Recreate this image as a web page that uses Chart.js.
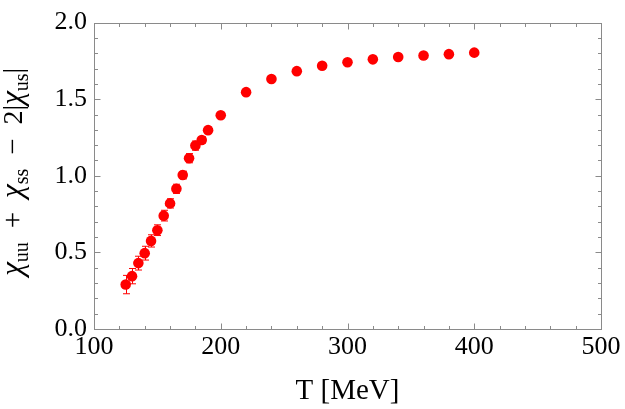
<!DOCTYPE html>
<html><head><meta charset="utf-8">
<script src="https://cdn.jsdelivr.net/npm/chart.js@4/dist/chart.umd.min.js"></script>
<style>html,body{margin:0;padding:0;background:#fff}#wrap{width:625px;height:409px;position:relative}</style>
</head><body><div id="wrap"><canvas id="c" width="625" height="409"></canvas></div>
<script>
const temperatures = [125,130,135,140,145,150,155,160,165,170,175,180,185,190,200,220,240,260,280,300,320,340,360,380,400];
const chiValues    = [0.29,0.345,0.43,0.495,0.575,0.645,0.74,0.82,0.915,1.005,1.115,1.197,1.234,1.298,1.395,1.546,1.632,1.683,1.718,1.741,1.760,1.775,1.785,1.794,1.804];
const chiErrors    = [0.06,0.05,0.045,0.045,0.04,0.035,0.035,0.03,0.03,0.025,0.03,0.03,0.02,0.02,0.015,0.015,0.02,0.015,0.01,0.01,0.01,0.01,0.01,0.01,0.01];
const xTickValues = [100,200,300,400,500];
const xTickLabels = ['100','200','300','400','500'];
const yTickValues = [0,0.5,1.0,1.5,2.0];
const yTickLabels = ['0.0','0.5','1.0','1.5','2.0'];
const xMinorStep = 20;
const yMinorStep = 0.1;
const xTitle = 'T [MeV]';
const yTitleParts = [
  {t:'χ', kind:'chi'},
  {t:'uu', kind:'sub'},
  {t:'+', kind:'op'},
  {t:'χ', kind:'chi'},
  {t:'ss', kind:'sub'},
  {t:'−', kind:'op'},
  {t:'2|', kind:'main'},
  {t:'χ', kind:'chi'},
  {t:'us', kind:'sub'},
  {t:'|', kind:'main'}
];

const FONT = 'Liberation Serif';
const FRAME = '#8a8a8a';

const framePlugin = {
  id: 'frame',
  beforeDatasetsDraw(chart) {
    const {ctx, scales:{x, y}} = chart;
    const ds = chart.data.datasets[0].data;
    ctx.save();
    ctx.strokeStyle = '#ff0000';
    ctx.lineWidth = 1;
    ds.forEach((p, i) => {
      const e = chiErrors[i];
      const px = Math.round(x.getPixelForValue(p.x)) + 0.5;
      const y1 = y.getPixelForValue(p.y + e), y2 = y.getPixelForValue(p.y - e);
      ctx.beginPath();
      ctx.moveTo(px, y1); ctx.lineTo(px, y2);
      ctx.moveTo(px - 3.5, y1); ctx.lineTo(px + 3.5, y1);
      ctx.moveTo(px - 3.5, y2); ctx.lineTo(px + 3.5, y2);
      ctx.stroke();
    });
    ctx.restore();
  },
  afterDraw(chart) {
    const {ctx, chartArea:a, scales:{x, y}} = chart;
    ctx.save();
    ctx.strokeStyle = FRAME;
    ctx.lineWidth = 1;
    const L = Math.round(a.left)+0.5, R = Math.round(a.right)+0.5, T = Math.round(a.top)+0.5, B = Math.round(a.bottom)+0.5;
    ctx.strokeRect(L, T, R - L, B - T);
    ctx.beginPath();
    for (let v = x.min; v <= x.max + 1e-9; v += xMinorStep) {
      const major = xTickValues.some(t => Math.abs(t - v) < 1e-6);
      const len = major ? 6 : 3.5;
      const px = Math.round(x.getPixelForValue(v)) + 0.5;
      ctx.moveTo(px, B); ctx.lineTo(px, B - len);
      ctx.moveTo(px, T); ctx.lineTo(px, T + len);
    }
    for (let v = y.min; v <= y.max + 1e-9; v += yMinorStep) {
      const major = yTickValues.some(t => Math.abs(t - v) < 1e-6);
      const len = major ? 6 : 3.5;
      const py = Math.round(y.getPixelForValue(v)) + 0.5;
      ctx.moveTo(L, py); ctx.lineTo(L + len, py);
      ctx.moveTo(R, py); ctx.lineTo(R - len, py);
    }
    ctx.stroke();

    // x title
    ctx.fillStyle = '#000';
    ctx.font = '29px "' + FONT + '"';
    ctx.textAlign = 'center';
    ctx.textBaseline = 'alphabetic';
    ctx.fillText(xTitle, (a.left + a.right) / 2, 399);

    // y title with subscripts
    const TARGET = 208;
    const fonts = {chi: 'italic 31px', sub: '20px', op: '29px', main: '28px'};
    const fontOf = p => fonts[p.kind] + ' "' + FONT + '"';
    let natural = 0, opCount = 0;
    yTitleParts.forEach(p => { ctx.font = fontOf(p); p.w = ctx.measureText(p.t).width; natural += p.w; if (p.kind === 'op') opCount++; });
    const gap = Math.max(0, (TARGET - natural) / (opCount * 2));
    const total = natural + gap * opCount * 2;
    ctx.translate(22, (a.top + a.bottom) / 2 - 4);
    ctx.rotate(-Math.PI / 2);
    ctx.textAlign = 'left';
    let cx = -total / 2;
    yTitleParts.forEach(p => {
      const op = p.kind === 'op';
      if (op) cx += gap;
      ctx.font = fontOf(p);
      ctx.fillText(p.t, cx, p.kind === 'sub' ? 6 : 0);
      cx += p.w;
      if (op) cx += gap;
    });
    ctx.restore();
  }
};

new Chart(document.getElementById('c'), {
  type: 'scatter',
  data: {
    datasets: [{
      data: temperatures.map((t, i) => ({x: t, y: chiValues[i]})),
      backgroundColor: '#ff0000',
      borderColor: '#ff0000',
      borderWidth: 0,
      pointRadius: 5.3
    }]
  },
  options: {
    responsive: false,
    animation: false,
    devicePixelRatio: 1,
    layout: {padding: {top: 15, right: 24, left: 0, bottom: 0}},
    plugins: {legend: {display: false}, tooltip: {enabled: false}},
    scales: {
      x: {
        type: 'linear', min: 100, max: 500,
        afterBuildTicks: s => { s.ticks = xTickValues.map(v => ({value: v})); },
        afterFit: s => { s.height = 80; },
        grid: {display: false, drawTicks: false},
        border: {display: false},
        ticks: {callback: (v, i) => xTickLabels[i], color: '#000', font: {family: FONT, size: 26}, padding: 3, maxRotation: 0, autoSkip: false}
      },
      y: {
        type: 'linear', min: 0, max: 2,
        afterBuildTicks: s => { s.ticks = yTickValues.map(v => ({value: v})); },
        afterFit: s => { s.width = 94; },
        grid: {display: false, drawTicks: false},
        border: {display: false},
        ticks: {callback: (v, i) => yTickLabels[i], color: '#000', font: {family: FONT, size: 26}, padding: 7, autoSkip: false}
      }
    }
  },
  plugins: [framePlugin]
});
</script></body></html>
